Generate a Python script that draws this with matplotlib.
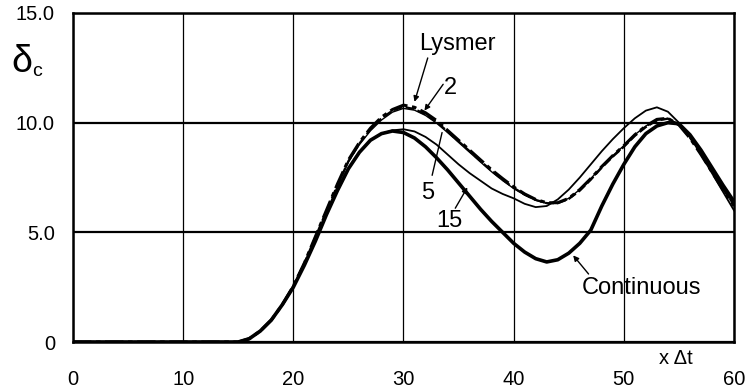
import matplotlib
matplotlib.use("Agg")
import matplotlib.pyplot as plt

# ---- data ----
x = [0, 14, 15, 16, 17, 18, 19, 20, 21, 22, 23, 24, 25, 26, 27, 28, 29, 30,
     31, 32, 33, 34, 35, 36, 37, 38, 39, 40, 41, 42, 43, 44, 45, 46, 47, 48,
     49, 50, 51, 52, 53, 54, 55, 56, 57, 58, 59, 60]

continuous = [0, 0, 0.0, 0.15, 0.5, 1.0, 1.7, 2.5, 3.5, 4.6, 5.8, 6.9, 7.9, 8.65,
              9.2, 9.5, 9.62, 9.55, 9.3, 8.9, 8.4, 7.85, 7.25, 6.65, 6.05, 5.5,
              5.0, 4.5, 4.1, 3.8, 3.65, 3.75, 4.05, 4.5, 5.1, 6.2, 7.2, 8.1, 8.9,
              9.5, 9.85, 10.0, 9.95, 9.45, 8.75, 7.95, 7.15, 6.4]

lysmer = [0, 0, 0.0, 0.15, 0.5, 1.0, 1.7, 2.55, 3.6, 4.8, 6.0, 7.2, 8.3, 9.1,
          9.75, 10.25, 10.6, 10.8, 10.7, 10.45, 10.1, 9.65, 9.2, 8.75, 8.3, 7.85,
          7.45, 7.07, 6.75, 6.5, 6.35, 6.35, 6.55, 6.95, 7.45, 8.0, 8.5, 8.95,
          9.45, 9.85, 10.15, 10.2, 9.9, 9.3, 8.55, 7.75, 6.95, 6.2]

n2 = [0, 0, 0.0, 0.15, 0.5, 1.0, 1.7, 2.55, 3.6, 4.78, 5.97, 7.15, 8.25, 9.05,
      9.7, 10.2, 10.55, 10.72, 10.62, 10.38, 10.03, 9.6, 9.15, 8.7, 8.25, 7.8,
      7.4, 7.03, 6.72, 6.48, 6.33, 6.33, 6.52, 6.9, 7.4, 7.95, 8.45, 8.9,
      9.4, 9.8, 10.1, 10.18, 9.9, 9.32, 8.58, 7.78, 6.98, 6.25]

n5 = [0, 0, 0.0, 0.15, 0.5, 1.0, 1.7, 2.55, 3.58, 4.75, 5.93, 7.1, 8.2, 9.0,
      9.63, 10.12, 10.48, 10.65, 10.57, 10.33, 9.98, 9.55, 9.1, 8.65, 8.2, 7.76,
      7.36, 7.0, 6.7, 6.46, 6.32, 6.34, 6.55, 6.95, 7.45, 8.0, 8.5, 8.95,
      9.45, 9.85, 10.12, 10.2, 9.92, 9.35, 8.6, 7.8, 7.0, 6.28]

n15 = [0, 0, 0.0, 0.15, 0.5, 1.0, 1.7, 2.5, 3.5, 4.6, 5.8, 6.9, 7.9, 8.65,
       9.2, 9.5, 9.65, 9.7, 9.6, 9.35, 9.0, 8.55, 8.1, 7.7, 7.35, 7.0,
       6.75, 6.55, 6.3, 6.15, 6.2, 6.5, 6.95, 7.5, 8.1, 8.7, 9.25, 9.75,
       10.2, 10.55, 10.7, 10.5, 10.0, 9.35, 8.55, 7.7, 6.85, 6.0]

xticks = [0, 10, 20, 30, 40, 50, 60]
xticklabels = ["0", "10", "20", "30", "40", "50", "60"]
yticks = [0, 5, 10, 15]
yticklabels = ["0", "5.0", "10.0", "15.0"]

# ---- figure ----
FONT = "Liberation Sans"
plt.rcParams["font.family"] = [FONT, "DejaVu Sans"]

fig = plt.figure(figsize=(7.5, 3.92), dpi=100)
ax = fig.add_axes([73 / 750, 50 / 392, 661 / 750, 329 / 392])

ax.set_xlim(0, 60)
ax.set_ylim(0, 15)

ax.set_xticks(xticks)
ax.set_xticklabels(xticklabels)
ax.set_yticks(yticks)
ax.set_yticklabels(yticklabels)
ax.tick_params(axis="x", length=0, pad=20, labelsize=14.5)
ax.tick_params(axis="y", length=0, pad=13, labelsize=14.5)

ax.xaxis.grid(True, color="black", lw=0.9)
ax.yaxis.grid(True, color="black", lw=1.6)
ax.set_axisbelow(True)
for s in ax.spines.values():
    s.set_linewidth(1.8)

ax.plot(x, continuous, color="black", lw=2.6, solid_capstyle="butt")
ax.plot(x, n15, color="black", lw=1.3)
ax.plot(x, n5, color="black", lw=1.0)
ax.plot(x, n2, color="black", lw=1.6, ls=(0, (4, 1.5)))
ax.plot(x, lysmer, color="black", lw=2.2, ls=(0, (6, 1.5, 1.5, 1.5)))

# labels and leader lines
fs = 17
ax.text(34.9, 13.6, "Lysmer", fontsize=fs, ha="center", va="center")
ax.annotate("", xy=(31.0, 10.95), xytext=(32.2, 12.95),
            arrowprops=dict(arrowstyle="-|>", lw=1.0, color="black",
                            mutation_scale=8, shrinkA=0, shrinkB=0))
ax.text(34.3, 11.6, "2", fontsize=fs, ha="center", va="center")
ax.annotate("", xy=(31.9, 10.55), xytext=(33.6, 11.75),
            arrowprops=dict(arrowstyle="-|>", lw=1.0, color="black",
                            mutation_scale=8, shrinkA=0, shrinkB=0))
ax.text(32.2, 6.8, "5", fontsize=fs, ha="center", va="center")
ax.annotate("", xy=(33.5, 9.55), xytext=(32.6, 7.6),
            arrowprops=dict(arrowstyle="-", lw=1.0, color="black",
                            shrinkA=0, shrinkB=0))
ax.text(34.2, 5.5, "15", fontsize=fs, ha="center", va="center")
ax.annotate("", xy=(35.8, 7.05), xytext=(34.7, 6.1),
            arrowprops=dict(arrowstyle="-|>", lw=1.0, color="black",
                            mutation_scale=8, shrinkA=0, shrinkB=0))
ax.text(51.6, 2.45, "Continuous", fontsize=fs, ha="center", va="center")
ax.annotate("", xy=(45.4, 3.95), xytext=(46.8, 3.1),
            arrowprops=dict(arrowstyle="-|>", lw=1.0, color="black",
                            mutation_scale=8, shrinkA=0, shrinkB=0))

# axis symbols
fig.text(676 / 750, 1 - 359 / 392, "x \u0394t", fontsize=14.5,
         ha="center", va="center")
fig.text(22 / 750, 1 - 62 / 392, "\u03b4", fontsize=27, ha="center",
         va="center")
fig.text(37 / 750, 1 - 71 / 392, "c", fontsize=14, ha="center",
         va="center")

fig.savefig("out.png", dpi=100)
